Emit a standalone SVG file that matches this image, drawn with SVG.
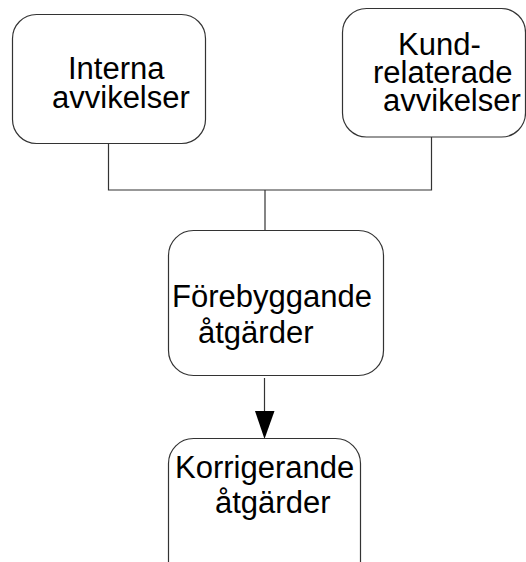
<svg xmlns="http://www.w3.org/2000/svg" width="526" height="562" viewBox="0 0 526 562">
<style>
.box{fill:#fff;stroke:#333;stroke-width:1.2}
.t{font-family:"Liberation Sans",Arial,sans-serif;font-size:31px;fill:#000}
.c{fill:none;stroke:#333;stroke-width:1.2}
</style>
<defs>
<marker id="ah" markerWidth="20" markerHeight="28" refX="9.5" refY="28" orient="auto-start-reverse" markerUnits="userSpaceOnUse" viewBox="0 0 19 28">
<path d="M0,0 L19,0 L9.5,28 Z" fill="#000" transform="rotate(0)"/>
</marker>
</defs>
<rect width="526" height="562" fill="#fff"/>
<g id="connectors">
<polyline class="c" points="108.5,143 108.5,190 431.5,190 431.5,137"/>
<line class="c" x1="265" y1="190" x2="265" y2="230.5"/>
<line class="c" x1="264.5" y1="378" x2="264.5" y2="411"/>
<path d="M255,411 L274.5,411 L264.5,439 Z" fill="#000"/>
</g>
<g id="interna">
<rect class="box" x="12.5" y="14.5" width="193" height="129" rx="24"/>
<text class="t" x="68" y="79">Interna</text>
<text class="t" x="52" y="108">avvikelser</text>
</g>
<g id="kund">
<rect class="box" x="342.5" y="8.5" width="183" height="128.5" rx="24"/>
<text class="t" x="398" y="55">Kund-</text>
<text class="t" x="373" y="83">relaterade</text>
<text class="t" x="383" y="111">avvikelser</text>
</g>
<g id="forebyggande">
<rect class="box" x="168.5" y="230.5" width="215" height="145" rx="25"/>
<text class="t" x="172" y="307">Förebyggande</text>
<text class="t" x="198" y="343">åtgärder</text>
</g>
<g id="korrigerande">
<rect class="box" x="168.5" y="438.5" width="192" height="160" rx="25"/>
<text class="t" x="175" y="478">Korrigerande</text>
<text class="t" x="215" y="513">åtgärder</text>
</g>
</svg>
